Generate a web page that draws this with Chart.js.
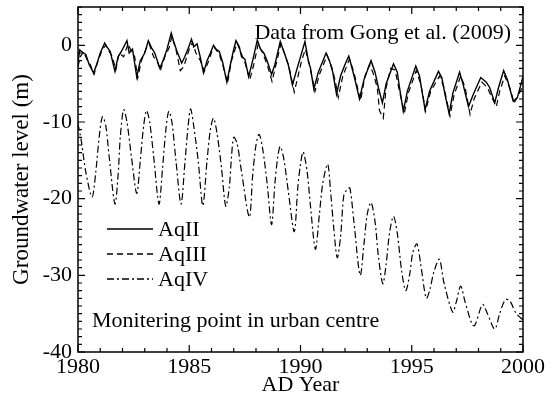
<!DOCTYPE html>
<html>
<head>
<meta charset="utf-8">
<script src="https://cdn.jsdelivr.net/npm/chart.js@4/dist/chart.umd.min.js"></script>
<style>
  html, body { margin: 0; padding: 0; background: #fff; }
  #wrap { width: 548px; height: 394px; }
</style>
</head>
<body>
<div id="wrap"><canvas id="chart" width="548" height="394"></canvas></div>
<script>
// AqII (solid)
const aq2Year = [1980.00,1980.08,1980.2,1980.35,1980.5,1980.7,1980.85,1981.0,1981.2,1981.3,1981.45,1981.66,1981.8,1981.95,1982.2,1982.3,1982.45,1982.64,1982.8,1983.0,1983.16,1983.3,1983.45,1983.68,1983.85,1984.0,1984.19,1984.3,1984.45,1984.66,1984.8,1984.95,1985.1,1985.2,1985.35,1985.5,1985.64,1985.8,1985.95,1986.09,1986.2,1986.35,1986.5,1986.69,1986.85,1987.0,1987.1,1987.25,1987.35,1987.5,1987.67,1987.85,1988.06,1988.2,1988.35,1988.5,1988.7,1988.85,1989.09,1989.25,1989.45,1989.64,1989.8,1990.0,1990.2,1990.35,1990.45,1990.6,1990.8,1991.15,1991.3,1991.45,1991.62,1991.8,1992.0,1992.17,1992.3,1992.45,1992.65,1992.85,1993.17,1993.35,1993.5,1993.68,1993.85,1994.18,1994.35,1994.45,1994.62,1994.8,1995.18,1995.35,1995.45,1995.6,1995.8,1996.2,1996.35,1996.5,1996.68,1996.85,1997.15,1997.3,1997.55,1997.75,1998.1,1998.35,1998.5,1998.73,1998.9,1999.13,1999.3,1999.56,1999.75,2000.0];
const aq2Level = [-2.2,-0.6,-0.9,-1.2,-2.5,-3.6,-2.4,-1.0,0.3,-0.2,-0.8,-3.4,-1.5,-0.8,0.6,-1.0,-0.5,-4.1,-2.0,-1.0,0.6,-0.3,-1.0,-3.0,-1.8,-0.5,1.6,0.5,-0.8,-2.3,-1.5,-0.4,0.8,-0.2,0.2,-1.6,-3.6,-2.0,-1.0,0.0,-0.5,-0.8,-2.2,-4.8,-2.5,-0.5,0.6,-0.2,-1.5,-1.8,-4.1,-2.0,0.7,-0.5,-1.0,-2.0,-3.8,-2.5,0.5,-0.8,-2.5,-5.2,-3.5,-1.5,0.5,-2.0,-3.0,-5.7,-3.5,-1.0,-2.0,-3.5,-6.4,-4.0,-2.5,-1.4,-2.8,-4.5,-7.0,-4.5,-2.0,-3.5,-5.5,-7.5,-5.0,-2.4,-3.5,-5.5,-8.6,-6.0,-2.7,-4.0,-5.8,-8.4,-6.0,-3.4,-4.2,-6.5,-8.9,-6.2,-3.5,-5.0,-8.0,-6.5,-4.2,-4.8,-5.5,-7.5,-5.5,-3.3,-4.5,-7.3,-6.8,-4.1];

// AqIII (dashed)
const aq3Year = [1980.0,1980.1,1980.25,1980.4,1980.55,1980.72,1980.9,1981.1,1981.25,1981.4,1981.55,1981.7,1981.85,1982.05,1982.25,1982.4,1982.55,1982.68,1982.85,1983.05,1983.2,1983.4,1983.55,1983.7,1983.9,1984.1,1984.22,1984.4,1984.6,1984.75,1985.0,1985.15,1985.3,1985.5,1985.68,1985.85,1986.05,1986.15,1986.35,1986.5,1986.72,1986.9,1987.15,1987.3,1987.5,1987.72,1987.9,1988.1,1988.3,1988.5,1988.72,1988.9,1989.12,1989.3,1989.5,1989.72,1989.85,1990.05,1990.22,1990.4,1990.65,1990.85,1991.2,1991.4,1991.55,1991.7,1991.9,1992.2,1992.4,1992.7,1992.9,1993.1,1993.25,1993.45,1993.55,1993.72,1993.85,1994.05,1994.25,1994.45,1994.67,1994.85,1995.2,1995.4,1995.5,1995.62,1995.85,1996.25,1996.45,1996.72,1996.9,1997.2,1997.4,1997.62,1997.8,1998.15,1998.4,1998.55,1998.8,1998.95,1999.18,1999.4,1999.6,1999.8,2000.0];
const aq3Level = [-2.8,-1.5,-0.8,-1.8,-2.5,-3.8,-2.0,-0.5,0.0,-0.8,-1.5,-3.2,-1.0,-1.5,0.2,-0.8,-1.5,-4.3,-2.0,-0.5,0.2,-1.5,-2.0,-3.3,-1.5,-0.3,1.2,-0.5,-3.3,-2.8,-0.5,0.4,-1.0,-2.0,-3.4,-2.2,-0.5,-0.3,-1.2,-2.5,-4.9,-2.0,0.3,-0.8,-2.2,-4.5,-2.5,0.2,-1.0,-2.5,-4.7,-2.5,0.2,-1.2,-3.0,-6.1,-4.5,-2.0,-0.5,-2.5,-6.0,-3.8,-1.3,-2.8,-4.5,-6.8,-4.0,-1.8,-3.5,-7.2,-4.0,-2.5,-3.5,-5.5,-8.5,-9.5,-5.5,-3.0,-3.2,-6.0,-8.8,-6.2,-3.3,-5.0,-6.5,-8.6,-6.0,-4.0,-5.5,-9.2,-6.5,-4.0,-5.5,-9.0,-7.0,-4.8,-5.5,-6.5,-8.0,-6.0,-4.0,-5.5,-7.5,-6.5,-5.2];

// AqIV (dash-dot)
const aq4Year = [1980.0,1980.15,1980.35,1980.63,1980.8,1980.95,1981.1,1981.25,1981.4,1981.66,1981.8,1981.9,1982.05,1982.2,1982.4,1982.64,1982.8,1982.95,1983.08,1983.22,1983.4,1983.64,1983.8,1983.95,1984.08,1984.22,1984.4,1984.63,1984.8,1984.95,1985.06,1985.2,1985.4,1985.61,1985.8,1985.95,1986.09,1986.25,1986.45,1986.64,1986.8,1986.9,1987.0,1987.15,1987.35,1987.7,1987.85,1988.0,1988.14,1988.3,1988.5,1988.7,1988.85,1988.98,1989.09,1989.25,1989.45,1989.72,1989.88,1990.0,1990.12,1990.3,1990.45,1990.67,1990.85,1991.0,1991.22,1991.35,1991.5,1991.65,1991.8,1991.95,1992.1,1992.22,1992.4,1992.68,1992.85,1993.0,1993.17,1993.35,1993.5,1993.7,1993.85,1994.0,1994.18,1994.35,1994.55,1994.73,1994.9,1995.05,1995.23,1995.4,1995.65,1995.8,1996.0,1996.24,1996.45,1996.84,1997.0,1997.2,1997.4,1997.79,1998.18,1998.4,1998.73,1998.95,1999.2,1999.4,1999.7,2000.0];
const aq4Level = [-10.2,-12.5,-16.5,-19.8,-16.5,-12.0,-9.3,-10.5,-14.5,-20.7,-17.0,-12.0,-8.4,-10.0,-14.5,-19.3,-15.0,-10.5,-8.5,-10.0,-14.5,-20.7,-16.0,-11.0,-8.6,-10.0,-15.0,-20.7,-15.5,-10.5,-8.3,-10.5,-15.0,-20.9,-15.0,-11.0,-9.5,-11.5,-16.0,-21.0,-18.5,-14.5,-12.0,-12.8,-16.5,-22.4,-17.0,-13.0,-11.6,-13.5,-18.0,-23.4,-18.0,-14.5,-13.2,-14.8,-19.0,-24.3,-18.5,-15.5,-13.9,-16.5,-21.0,-26.6,-22.0,-18.0,-15.5,-19.0,-24.0,-27.7,-25.0,-19.5,-18.8,-18.6,-23.0,-30.0,-26.0,-22.0,-20.5,-23.0,-27.5,-31.1,-28.5,-24.5,-22.3,-24.5,-29.5,-32.0,-30.0,-27.0,-25.9,-28.5,-33.0,-32.0,-29.5,-27.9,-31.0,-34.8,-33.5,-31.4,-33.5,-36.6,-33.8,-35.0,-37.0,-35.0,-33.2,-33.3,-35.0,-35.8];

const yTicks = [-40, -30, -20, -10, 0];
const xTicks = [1980, 1985, 1990, 1995, 2000];

const FONT = '"Liberation Serif", "Times New Roman", serif';
const toPoints = (xs, ys) => xs.map((x, i) => ({ x, y: ys[i] }));

// frame, inward ticks on all sides, legend and notes
const framePlugin = {
  id: 'frame',
  afterDraw(chart) {
    const { ctx, chartArea: a, scales } = chart;
    const xs = scales.x, ys = scales.y;
    ctx.save();
    ctx.strokeStyle = '#000';
    ctx.lineWidth = 1.5;
    ctx.strokeRect(a.left, a.top, a.right - a.left, a.bottom - a.top);

    ctx.lineWidth = 1.2;
    ctx.beginPath();
    for (let v = 1980; v <= 2000; v++) {
      const px = xs.getPixelForValue(v);
      const len = v % 5 === 0 ? 7 : 4;
      ctx.moveTo(px, a.bottom); ctx.lineTo(px, a.bottom - len);
      ctx.moveTo(px, a.top); ctx.lineTo(px, a.top + len);
    }
    for (let v = -40; v <= 5; v++) {
      const py = ys.getPixelForValue(v);
      const len = v % 10 === 0 ? 7 : 4;
      ctx.moveTo(a.left, py); ctx.lineTo(a.left + len, py);
      ctx.moveTo(a.right, py); ctx.lineTo(a.right - len, py);
    }
    ctx.stroke();

    // notes
    ctx.fillStyle = '#000';
    ctx.font = '22px ' + FONT;
    ctx.textBaseline = 'middle';
    ctx.textAlign = 'right';
    ctx.fillText('Data from Gong et al. (2009)', a.right - 12, 33);
    ctx.textAlign = 'left';
    ctx.fillText('Monitering point in urban centre', 92, 321);

    // legend
    const rows = [
      { label: 'AqII', dash: [] },
      { label: 'AqIII', dash: [6, 4] },
      { label: 'AqIV', dash: [7, 3, 2, 3] }
    ];
    rows.forEach((r, i) => {
      const y = 229 + i * 25;
      ctx.setLineDash(r.dash);
      ctx.lineWidth = 1.3;
      ctx.beginPath();
      ctx.moveTo(107, y); ctx.lineTo(153, y);
      ctx.stroke();
      ctx.setLineDash([]);
      ctx.fillText(r.label, 158, y + 1);
    });
    ctx.restore();
  }
};

new Chart(document.getElementById('chart'), {
  type: 'line',
  data: {
    datasets: [
      { label: 'AqII', data: toPoints(aq2Year, aq2Level), borderColor: '#000', borderWidth: 1.4, pointRadius: 0, tension: 0 },
      { label: 'AqIII', data: toPoints(aq3Year, aq3Level), borderColor: '#000', borderWidth: 1.2, borderDash: [6, 4], pointRadius: 0, tension: 0 },
      { label: 'AqIV', data: toPoints(aq4Year, aq4Level), borderColor: '#000', borderWidth: 1.2, borderDash: [7, 3, 2, 3], pointRadius: 0, tension: 0.3 }
    ]
  },
  options: {
    responsive: false,
    animation: false,
    layout: { padding: { top: 7, right: 25, left: 0, bottom: 0 } },
    plugins: { legend: { display: false }, tooltip: { enabled: false } },
    scales: {
      x: {
        type: 'linear', min: 1980, max: 2000,
        afterBuildTicks: s => { s.ticks = xTicks.map(v => ({ value: v })); },
        afterFit: s => { s.height = 42; s.paddingLeft = 0; s.paddingRight = 0; },
        grid: { display: false, drawTicks: false },
        border: { display: false },
        ticks: { color: '#000', font: { family: FONT, size: 22 }, padding: 2, maxRotation: 0, callback: v => String(v) },
        title: { display: true, text: 'AD Year', color: '#000', font: { family: FONT, size: 22 }, padding: { top: -3, bottom: -4 } }
      },
      y: {
        type: 'linear', min: -40, max: 5,
        afterBuildTicks: s => { s.ticks = yTicks.map(v => ({ value: v })); },
        afterFit: s => { s.width = 78; s.paddingTop = 0; s.paddingBottom = 0; },
        grid: { display: false, drawTicks: false },
        border: { display: false },
        ticks: { color: '#000', font: { family: FONT, size: 22 }, padding: 6, callback: v => String(v) },
        title: { display: true, text: 'Groundwater level (m)', color: '#000', font: { family: FONT, size: 23 }, padding: { top: 8, bottom: 0 } }
      }
    }
  },
  plugins: [framePlugin]
});
</script>
</body>
</html>
